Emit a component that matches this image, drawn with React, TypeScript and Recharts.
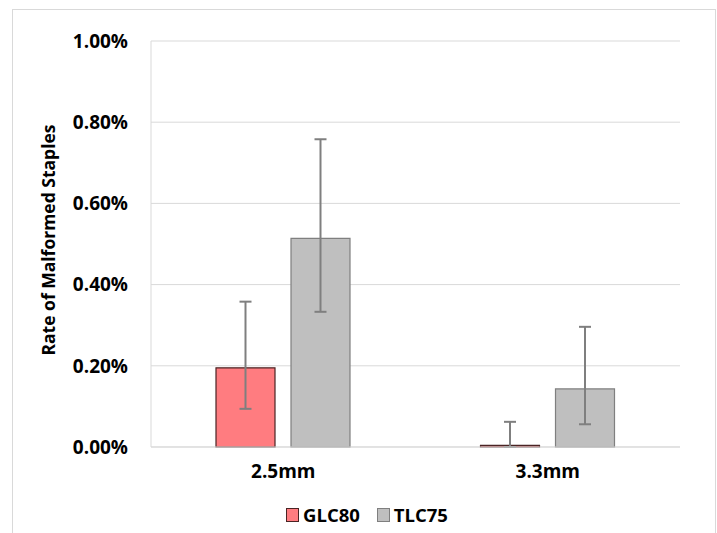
import React from "react";
import {
  BarChart,
  Bar,
  XAxis,
  YAxis,
  CartesianGrid,
  ErrorBar,
  Legend,
} from "recharts";

// staple sizes
const CATEGORIES = ["2.5mm", "3.3mm"];

// rate of malformed staples, in percent
const GLC80 = [0.195, 0.004];
const GLC80_LOW = [0.094, 0.0];
const GLC80_HIGH = [0.358, 0.062];

const TLC75 = [0.514, 0.143];
const TLC75_LOW = [0.333, 0.056];
const TLC75_HIGH = [0.758, 0.296];

const Y_TICKS = [0, 0.2, 0.4, 0.6, 0.8, 1.0];

const SERIES = [
  { key: "glc80", name: "GLC80", fill: "#ff7c80", stroke: "#4a2424" },
  { key: "tlc75", name: "TLC75", fill: "#bfbfbf", stroke: "#7f7f7f" },
];

const FONT = "'Open Sans', sans-serif";

const data = CATEGORIES.map((cat, i) => ({
  cat,
  glc80: GLC80[i],
  glc80Err: [GLC80[i] - GLC80_LOW[i], GLC80_HIGH[i] - GLC80[i]],
  tlc75: TLC75[i],
  tlc75Err: [TLC75[i] - TLC75_LOW[i], TLC75_HIGH[i] - TLC75[i]],
}));

function LegendContent() {
  return (
    <div
      style={{
        display: "flex",
        justifyContent: "center",
        gap: 17,
        paddingLeft: 17,
        fontFamily: FONT,
        fontWeight: 700,
        fontSize: 18.5,
        color: "#000",
      }}
    >
      {SERIES.map((s) => (
        <div key={s.key} style={{ display: "flex", alignItems: "center" }}>
          <span
            style={{
              display: "inline-block",
              width: 11,
              height: 12,
              background: s.fill,
              border: `1px solid ${s.stroke}`,
              marginRight: 4,
            }}
          />
          <span>{s.name}</span>
        </div>
      ))}
    </div>
  );
}

export default function App() {
  return (
    <div
      style={{
        position: "absolute",
        left: 0,
        top: 0,
        width: 717,
        height: 533,
        background: "#fff",
        overflow: "hidden",
      }}
    >
      <div
        style={{
          position: "absolute",
          left: 12,
          top: 9,
          width: 702,
          height: 540,
          border: "1px solid #d9d9d9",
        }}
      />
      <BarChart
        width={717}
        height={533}
        data={data}
        margin={{ top: 41, right: 37, bottom: 56, left: 0 }}
        barSize={59}
        barGap={16}
        style={{ position: "absolute", left: 0, top: 0 }}
      >
        <CartesianGrid vertical={false} stroke="#d9d9d9" strokeWidth={1} />
        <XAxis
          dataKey="cat"
          height={30}
          tickLine={false}
          tickSize={0}
          tickMargin={18}
          axisLine={{ stroke: "#d9d9d9" }}
          tick={{ fill: "#000", fontFamily: FONT, fontWeight: 700, fontSize: 19 }}
        />
        <YAxis
          width={151}
          domain={[0, 1]}
          ticks={Y_TICKS}
          tickFormatter={(v: number) => `${v.toFixed(2)}%`}
          tickLine={false}
          tickSize={0}
          tickMargin={23}
          axisLine={{ stroke: "#d9d9d9" }}
          tick={{ fill: "#000", fontFamily: FONT, fontWeight: 700, fontSize: 19 }}
          label={{
            content: () => (
              <text
                x={48}
                y={240}
                transform="rotate(-90 48 240)"
                textAnchor="middle"
                dominantBaseline="central"
                fill="#000"
                fontFamily={FONT}
                fontWeight={700}
                fontSize={17.5}
              >
                Rate of Malformed Staples
              </text>
            ),
          }}
        />
        <YAxis
          yAxisId="frame"
          orientation="right"
          width={0}
          domain={[0, 1]}
          tick={false}
          tickLine={false}
          axisLine={{ stroke: "#8c8c8c", strokeWidth: 1.5 }}
        />
        <Legend
          layout="horizontal"
          verticalAlign="middle"
          align="center"
          wrapperStyle={{ top: 502, left: 0, width: 717 }}
          content={() => <LegendContent />}
        />
        {SERIES.map((s) => (
          <Bar
            key={s.key}
            dataKey={s.key}
            name={s.name}
            fill={s.fill}
            stroke={s.stroke}
            strokeWidth={1.2}
            isAnimationActive={false}
          >
            <ErrorBar
              dataKey={`${s.key}Err`}
              width={6}
              strokeWidth={2}
              stroke="#7f7f7f"
              direction="y"
            />
          </Bar>
        ))}
      </BarChart>
    </div>
  );
}
